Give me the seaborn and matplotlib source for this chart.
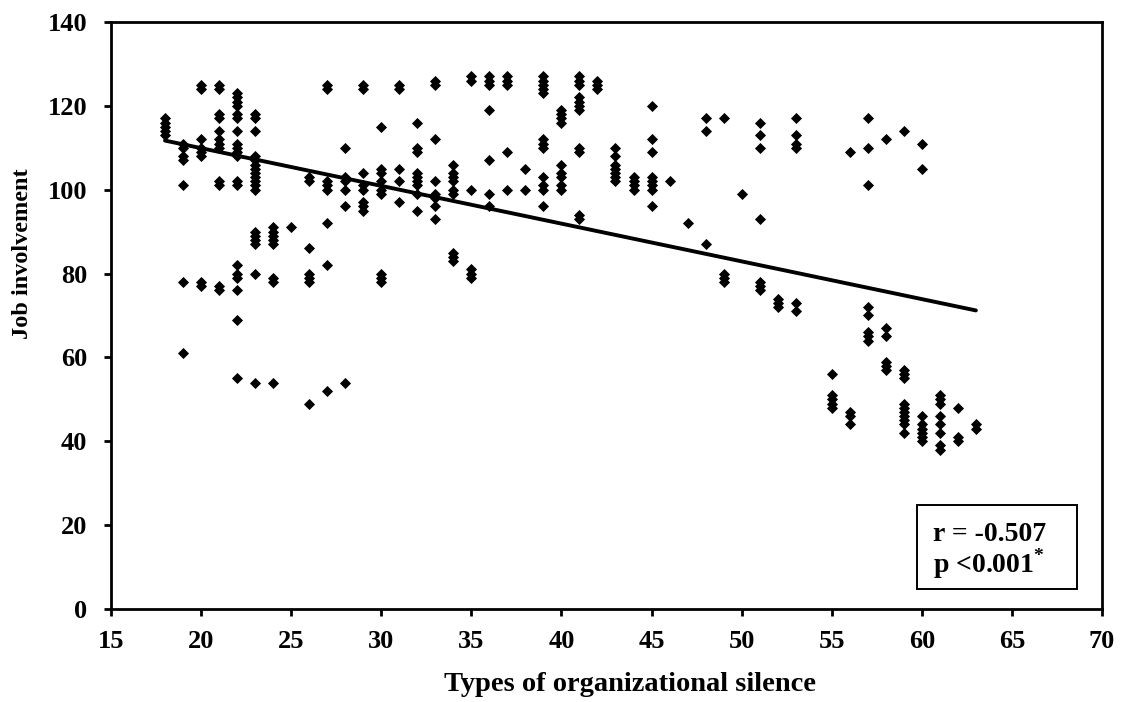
import matplotlib
matplotlib.use("Agg")
import matplotlib.pyplot as plt
from matplotlib.patches import Rectangle
import seaborn as sns
import pandas as pd

# Silence score levels and the job-involvement scores recorded at each level
silence_levels = [18, 19, 20, 21, 22, 23, 24, 25, 26, 27, 28, 29, 30, 31, 32,
                  33, 34, 35, 36, 37, 38, 39, 40, 41, 42, 43, 44, 45, 46, 47,
                  48, 49, 50, 51, 52, 53, 55, 56, 57, 58, 59, 60, 61, 62, 63]
involvement_by_level = [
    [117, 116, 115, 114, 113],
    [111, 110, 108, 107, 101, 78, 61],
    [125, 124, 112, 110, 109, 108, 78, 77],
    [125, 124, 118, 117, 114, 112, 111, 110, 102, 101, 77, 76],
    [123, 122, 121, 120, 118, 117, 114, 111, 110, 109, 108, 102, 101, 82, 80, 79, 76, 69, 55],
    [118, 117, 114, 108, 107, 106, 105, 104, 103, 102, 101, 100, 90, 89, 88, 87, 80, 54],
    [91, 90, 89, 88, 87, 79, 78, 54],
    [91],
    [103, 102, 86, 80, 79, 78, 49],
    [125, 124, 102, 101, 100, 92, 82, 52],
    [110, 103, 102, 100, 96, 54],
    [125, 124, 104, 101, 100, 97, 96, 95],
    [115, 105, 104, 102, 100, 99, 80, 79, 78],
    [125, 124, 105, 102, 97],
    [116, 110, 109, 104, 103, 102, 101, 99, 95],
    [126, 125, 112, 102, 99, 98, 96, 93],
    [106, 104, 103, 102, 100, 99, 85, 84, 83],
    [127, 126, 100, 81, 80, 79],
    [127, 126, 125, 119, 107, 99, 96],
    [127, 126, 125, 109, 100],
    [105, 100],
    [127, 126, 125, 124, 123, 112, 111, 110, 103, 101, 100, 96],
    [119, 118, 117, 116, 106, 104, 103, 101, 100],
    [127, 126, 125, 122, 121, 120, 119, 110, 109, 94, 93],
    [126, 125, 124],
    [110, 108, 106, 105, 104, 103, 102],
    [103, 102, 101, 100],
    [120, 112, 109, 103, 102, 101, 100, 96],
    [102],
    [92],
    [117, 114, 87],
    [117, 80, 79, 78],
    [99],
    [116, 113, 110, 93, 78, 77, 76],
    [74, 73, 72],
    [117, 113, 111, 110, 73, 71],
    [56, 51, 50, 49, 48],
    [109, 47, 46, 44],
    [117, 110, 101, 72, 70, 66, 65, 64],
    [112, 67, 65, 59, 58, 57],
    [114, 57, 56, 55, 49, 48, 47, 46, 45, 44, 42],
    [111, 105, 46, 44, 43, 42, 41, 40],
    [51, 50, 49, 46, 44, 42, 39, 38],
    [48, 41, 40],
    [44, 43],
]

x_ticks = [15, 20, 25, 30, 35, 40, 45, 50, 55, 60, 65, 70]
y_ticks = [0, 20, 40, 60, 80, 100, 120, 140]
x_label = "Types of organizational silence"
y_label = "Job involvement"
r_text = "r = -0.507"
p_text = "p <0.001$^{*}$"

rows = [(lvl, v) for lvl, vals in zip(silence_levels, involvement_by_level) for v in vals]
df = pd.DataFrame(rows, columns=["silence", "involvement"])

sns.set_style("white")
plt.rcParams["font.family"] = ["Liberation Serif", "DejaVu Serif"]
plt.rcParams["font.weight"] = "bold"
plt.rcParams["text.color"] = "black"
plt.rcParams["axes.labelcolor"] = "black"
plt.rcParams["mathtext.fontset"] = "custom"
plt.rcParams["mathtext.rm"] = "Liberation Serif:bold"

fig = plt.figure(figsize=(11.23, 7.02), dpi=100)
ax = fig.add_axes([0.0988, 0.1325, 0.8825, 0.8362])

sns.regplot(data=df, x="silence", y="involvement", ax=ax, ci=None, truncate=True,
            marker="D", color="black",
            scatter_kws={"s": 32, "linewidths": 0, "alpha": 1},
            line_kws={"linewidth": 2.8, "color": "black"})

ax.set_xlim(15, 70)
ax.set_ylim(0, 140)
ax.set_xticks(x_ticks)
ax.set_yticks(y_ticks)
ax.tick_params(axis="both", direction="out", length=5, width=2,
               labelsize=19, colors="black", bottom=True, left=True)
ax.tick_params(axis="x", pad=10)
ax.tick_params(axis="y", pad=12)
for lab in ax.get_xticklabels() + ax.get_yticklabels():
    lab.set_fontweight("bold")
for side in ["left", "bottom", "top", "right"]:
    ax.spines[side].set_visible(True)
    ax.spines[side].set_color("black")
    ax.spines[side].set_linewidth(2)

ax.set_xlabel(x_label, fontsize=20.5, fontweight="bold")
ax.set_ylabel(y_label, fontsize=17.5, fontweight="bold")
ax.xaxis.set_label_coords(0.5237, -0.108)
ax.yaxis.set_label_coords(-0.079, 0.606)

# Correlation summary box
ax.add_patch(Rectangle((0.8133, 0.0341), 0.1615, 0.1431, transform=ax.transAxes,
                       facecolor="white", edgecolor="black", linewidth=1.4, zorder=5))
ax.text(0.8295, 0.1158, r_text, transform=ax.transAxes, fontsize=20,
        fontweight="bold", ha="left", va="baseline", zorder=6)
ax.text(0.8295, 0.0613, p_text, transform=ax.transAxes, fontsize=20,
        fontweight="bold", ha="left", va="baseline", zorder=6)

fig.savefig("out.png", dpi=100)
